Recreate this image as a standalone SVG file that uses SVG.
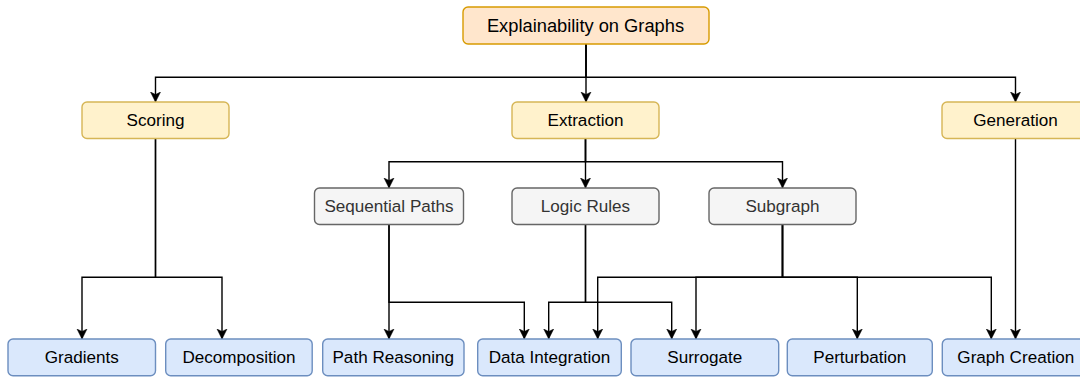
<svg xmlns="http://www.w3.org/2000/svg" width="1080" height="377" viewBox="0 0 1080 377">
<defs>
<style>
.root{fill:#ffe6cc;stroke:#d79b00;stroke-width:1.4}
.l1{fill:#fff2cc;stroke:#d6b656;stroke-width:1.4}
.l2{fill:#f5f5f5;stroke:#666666;stroke-width:1.4}
.l3{fill:#dae8fc;stroke:#6c8ebf;stroke-width:1.4}
text{font-family:"Liberation Sans",Arial,sans-serif;font-size:17.1px;text-anchor:middle;fill:#000}
.g{fill:#333333}
.big{font-size:18.3px}
.c path{fill:none;stroke:#000;stroke-width:1.4;marker-end:url(#arr)}
</style>
<marker id="arr" markerUnits="userSpaceOnUse" markerWidth="12" markerHeight="12" refX="10" refY="5" orient="auto" viewBox="0 0 12 10">
<path d="M0,0 L10,5 L0,10 L2.5,5 z" fill="#000" stroke="#000" stroke-width="0.5"/>
</marker>
</defs>
<rect width="1080" height="377" fill="#ffffff"/>
<g class="c" id="connectors">
<path d="M586,44 V77.3 H155.5 V102"/>
<path d="M586,44 V102"/>
<path d="M586,44 V77.3 H1015.5 V102"/>
<path d="M155.5,138.5 V277.3 H82 V339"/>
<path d="M155.5,138.5 V277.3 H222 V339"/>
<path d="M585.5,138.5 V161.7 H389 V188"/>
<path d="M585.5,138.5 V188"/>
<path d="M585.5,138.5 V161.7 H782.5 V188"/>
<path d="M389,224.5 V339"/>
<path d="M389,224.5 V302.3 H524.3 V339"/>
<path d="M585.5,224.5 V302.3 H548.7 V339"/>
<path d="M585.5,224.5 V302.3 H671.7 V339"/>
<path d="M782.5,224.5 V277.3 H597.7 V339"/>
<path d="M782.5,224.5 V277.3 H696 V339"/>
<path d="M782.5,224.5 V277.3 H857.3 V339"/>
<path d="M782.5,224.5 V277.3 H991.3 V339"/>
<path d="M1015.5,138.5 V339"/>
</g>
<g id="n-root"><rect class="root" x="463" y="7" width="246" height="37" rx="5"/><text class="big" x="585.5" y="32">Explainability on Graphs</text></g>
<g id="n-scoring"><rect class="l1" x="82" y="102" width="147" height="36.5" rx="5"/><text x="155.5" y="126.3">Scoring</text></g>
<g id="n-extraction"><rect class="l1" x="512" y="102" width="147" height="36.5" rx="5"/><text x="585.5" y="126.3">Extraction</text></g>
<g id="n-generation"><rect class="l1" x="942" y="102" width="147" height="36.5" rx="5"/><text x="1015.5" y="126.3">Generation</text></g>
<g id="n-seq"><rect class="l2" x="314.5" y="188" width="149" height="36.5" rx="5"/><text class="g" x="389" y="212.3">Sequential Paths</text></g>
<g id="n-logic"><rect class="l2" x="512" y="188" width="147" height="36.5" rx="5"/><text class="g" x="585.5" y="212.3">Logic Rules</text></g>
<g id="n-subgraph"><rect class="l2" x="709" y="188" width="147" height="36.5" rx="5"/><text class="g" x="782.5" y="212.3">Subgraph</text></g>
<g id="n-gradients"><rect class="l3" x="8" y="339" width="147.5" height="36.7" rx="5"/><text x="81.7" y="363.3">Gradients</text></g>
<g id="n-decomposition"><rect class="l3" x="165.7" y="339" width="146.5" height="36.7" rx="5"/><text x="239" y="363.3">Decomposition</text></g>
<g id="n-path"><rect class="l3" x="322.7" y="339" width="141.3" height="36.7" rx="5"/><text x="393.3" y="363.3">Path Reasoning</text></g>
<g id="n-data"><rect class="l3" x="477.7" y="339" width="143.6" height="36.7" rx="5"/><text x="549.5" y="363.3">Data Integration</text></g>
<g id="n-surrogate"><rect class="l3" x="631" y="339" width="147.7" height="36.7" rx="5"/><text x="704.8" y="363.3">Surrogate</text></g>
<g id="n-perturbation"><rect class="l3" x="787.3" y="339" width="145" height="36.7" rx="5"/><text x="859.8" y="363.3">Perturbation</text></g>
<g id="n-graphcreation"><rect class="l3" x="942.3" y="339" width="147" height="36.7" rx="5"/><text x="1015.8" y="363.3">Graph Creation</text></g>
</svg>
